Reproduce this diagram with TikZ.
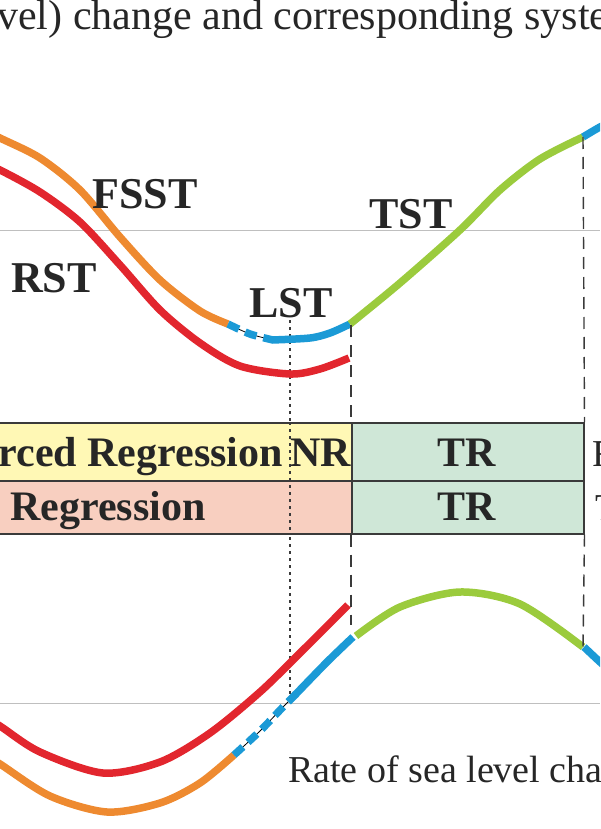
\documentclass[tikz,border=0pt]{standalone}
\usepackage{fontspec}
\setmainfont{Liberation Serif}
\definecolor{fsstorange}{HTML}{EE8A30}
\definecolor{rstred}{HTML}{E2262E}
\definecolor{lstblue}{HTML}{1B9AD6}
\definecolor{tstgreen}{HTML}{9BCB3D}
\definecolor{frfill}{HTML}{FFF8B5}
\definecolor{rfill}{HTML}{F8CFC0}
\definecolor{trfill}{HTML}{CFE7D7}
\definecolor{edge}{HTML}{3A3A3A}
\begin{document}
\begin{tikzpicture}[x=1pt, y=-1pt, smooth,
    curve/.style={line width=7.5pt},
    lowstand/.style={lstblue, line width=7.5pt, dash pattern=on 12pt off 7pt},
    guide/.style={edge, line width=1.4pt, dash pattern=on 12pt off 8pt},
    marker/.style={edge, line width=1.7pt, dash pattern=on 3pt off 4pt},
    axis/.style={black!25, line width=0.8pt},
    cell/.style={draw=edge, line width=1.5pt, anchor=north west, inner sep=0pt},
    tract/.style={font=\fontsize{44}{48}\selectfont\bfseries, text=black!85, inner sep=0pt, anchor=base},
    entry/.style={font=\fontsize{42}{46}\selectfont\bfseries, text=black!85, inner sep=0pt, anchor=base},
    caption/.style={font=\fontsize{38}{42}\selectfont, text=black!85, inner sep=0pt, anchor=base west}]
  \useasboundingbox (0,0) rectangle (600,829);
  \clip (0,0) rectangle (600,829);
  \node[caption, font=\fontsize{42}{46}\selectfont] (title) at (-3,30) {vel) change and corresponding syste};
  % zero lines
  \coordinate (sealeft) at (0,230); \coordinate (searight) at (600,230);
  \coordinate (rateleft) at (0,703); \coordinate (rateright) at (600,703);
  \draw[axis] (sealeft) -- (searight);
  \draw[axis] (rateleft) -- (rateright);
  % guide lines
  \coordinate (lowtop) at (290,320); \coordinate (lowbot) at (290,700);
  \coordinate (nrtop) at (351,325); \coordinate (nrbot) at (351,625);
  \coordinate (hstop) at (583,137); \coordinate (hsbot) at (583,648);
  \draw[marker] (lowtop) -- (lowbot);
  % sea level curve
  \draw[curve, fsstorange] plot coordinates {(-20,128) (0,138) (40,158) (80,190) (120,237) (160,280) (200,311) (228,324)};
  \draw[black, line width=0.8pt] plot coordinates {(228,324) (250,334) (273,340)};
  \draw[lowstand] plot coordinates {(228,324) (250,334) (273,340)};
  \draw[curve, lstblue] plot coordinates {(272,340) (310,338) (330,333) (350,324)};
  \draw[curve, tstgreen] plot coordinates {(350,324) (400,283) (460,230) (500,190) (540,159) (583,137)};
  \draw[curve, lstblue] plot coordinates {(583,137) (600,127) (615,120)};
  \draw[curve, rstred] plot coordinates {(-20,162) (0,170) (40,192) (80,222) (120,265) (160,310) (200,343) (240,366) (290,374) (320,369) (349,358)};
  % rate of sea level change curve
  \draw[curve, rstred] plot coordinates {(-20,714) (0,726) (40,752) (103,773) (160,762) (210,733) (260,692) (300,653) (348,605)};
  \draw[curve, fsstorange] plot coordinates {(-20,752) (0,764) (50,796) (107,812) (160,803) (200,783) (234,755)};
  \draw[black, line width=0.8pt] plot coordinates {(234,755) (260,731) (283,707) (296,694)};
  \draw[lowstand] plot coordinates {(234,755) (260,731) (283,707) (296,694)};
  \draw[curve, lstblue] plot coordinates {(295,695) (327,662) (353,637)};
  \draw[curve, tstgreen] plot coordinates {(356,636) (400,607) (460,592) (520,604) (583,647)};
  \draw[curve, lstblue] plot coordinates {(584,647) (600,662) (615,675)};
  % systems tract boxes
  \node[cell, fill=frfill, minimum width=371pt, minimum height=58pt] (fr) at (-20,422) {};
  \node[cell, fill=rfill, minimum width=371pt, minimum height=53pt] (reg) at (-20,480) {};
  \node[cell, fill=trfill, minimum width=232pt, minimum height=58pt] (trone) at (351,422) {};
  \node[cell, fill=trfill, minimum width=232pt, minimum height=53pt] (trtwo) at (351,480) {};
  \draw[guide] (nrtop) -- (trone.north west);
  \draw[guide] (trtwo.south west) -- (nrbot);
  \draw[guide] (hstop) -- (trone.north east);
  \draw[guide] (trtwo.south east) -- (hsbot);
  \draw[marker] (fr.north -| lowtop) -- (reg.south -| lowtop);
  \node[entry, anchor=base east] (frtext) at (283,466) {rced Regression};
  \node[entry] (nr) at (321,466) {NR};
  \node[entry] (regtext) at (108,520) {Regression};
  \node[entry] (trtoptext) at (467,466) {TR};
  \node[entry] (trbottext) at (467,520) {TR};
  \node[caption] (frright) at (592,466) {F};
  \node[caption] (trright) at (595,520) {T};
  % tract labels
  \node[tract] (fsst) at (145,208) {FSST};
  \node[tract] (rst) at (54,292) {RST};
  \node[tract] (tst) at (411,228) {TST};
  \node[tract] (lst) at (291,317) {LST};
  \node[caption] (ratelabel) at (288,782) {Rate of sea level cha};
\end{tikzpicture}
\end{document}
